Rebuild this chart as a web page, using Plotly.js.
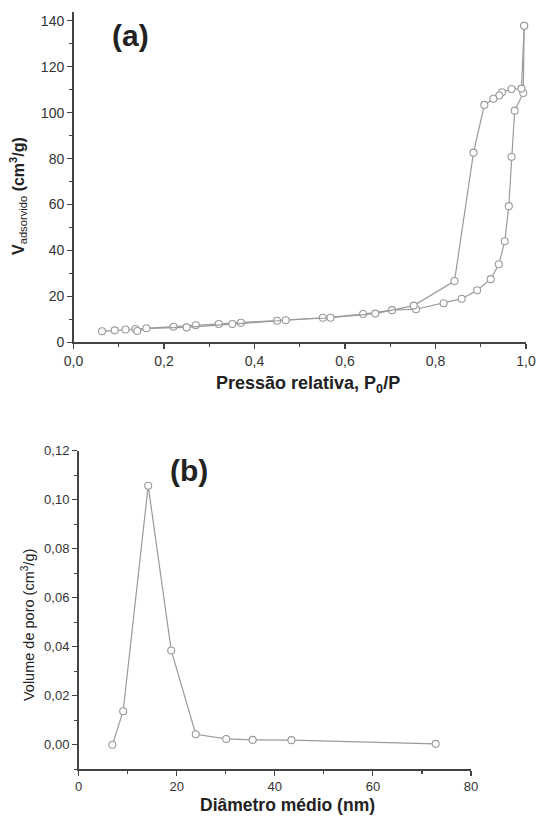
<!DOCTYPE html>
<html>
<head>
<meta charset="utf-8">
<script src="https://cdn.plot.ly/plotly-3.0.1.min.js"></script>
<style>html,body{margin:0;padding:0;background:#fff;}#chart{width:537px;height:816px;}</style>
</head>
<body>
<div id="chart"></div>
<script>
// (a) N2 isotherm: adsorption branch
const adsX = [0.063, 0.091, 0.115, 0.137, 0.221, 0.270, 0.321, 0.370, 0.450, 0.551, 0.640, 0.704, 0.757, 0.818, 0.858, 0.892, 0.922, 0.940, 0.953, 0.962, 0.968, 0.975, 0.994, 0.996];
const adsY = [4.8, 5.2, 5.6, 5.8, 6.8, 7.4, 8.0, 8.5, 9.4, 10.7, 12.3, 14.0, 14.4, 17.0, 19.0, 22.7, 27.5, 34.0, 44.0, 59.3, 80.8, 100.9, 108.6, 137.9];
// (a) desorption branch
const desX = [0.996, 0.990, 0.968, 0.947, 0.941, 0.928, 0.908, 0.884, 0.842, 0.752, 0.667, 0.568, 0.469, 0.351, 0.250, 0.161, 0.141];
const desY = [137.9, 110.5, 110.3, 108.9, 107.5, 106.1, 103.4, 82.6, 26.7, 16.0, 12.5, 10.7, 9.6, 8.0, 6.5, 6.1, 4.9];
// (b) pore size distribution
const diam = [6.9, 9.1, 14.2, 18.9, 23.9, 30.1, 35.5, 43.4, 72.8];
const vol  = [0.0000, 0.0137, 0.1057, 0.0385, 0.0043, 0.0024, 0.0020, 0.0019, 0.0004];

const lineCol = '#9a9a9a';
const mk = {symbol: 'circle', size: 7, color: '#ffffff', line: {color: '#9a9a9a', width: 1.1}};
function tr(x, y, xa, ya) {
  return {x: x, y: y, xaxis: xa, yaxis: ya, type: 'scatter', mode: 'lines+markers',
          line: {color: lineCol, width: 1.2}, marker: mk, cliponaxis: false, hoverinfo: 'x+y'};
}
const data = [tr(adsX, adsY, 'x', 'y'), tr(desX, desY, 'x', 'y'), tr(diam, vol, 'x2', 'y2')];

const axBase = {showline: true, linecolor: '#444', linewidth: 1.5, ticks: 'outside', ticklen: 5,
  tickwidth: 1.2, tickcolor: '#444', showgrid: false, zeroline: false, fixedrange: true};
const fontFam = 'Liberation Sans, Arial, Helvetica, sans-serif';

const layout = {
  width: 537, height: 816, margin: {l: 0, r: 0, t: 0, b: 0},
  paper_bgcolor: '#fff', plot_bgcolor: '#fff', showlegend: false, separators: ',.',
  font: {family: fontFam, color: '#333'},
  xaxis: Object.assign({}, axBase, {domain: [0.1369, 0.9795], anchor: 'y', range: [0, 1], tick0: 0, dtick: 0.2,
    tickformat: '.1f', tickfont: {size: 14, color: '#333'},
    minor: {dtick: 0.1, ticks: 'outside', ticklen: 3, tickcolor: '#444', tickwidth: 1.2, showgrid: false}}),
  yaxis: Object.assign({}, axBase, {domain: [0.5805, 0.9857], anchor: 'x', range: [0, 144], tick0: 0, dtick: 20,
    tickfont: {size: 14, color: '#333'},
    minor: {dtick: 10, ticks: 'outside', ticklen: 3, tickcolor: '#444', tickwidth: 1.2, showgrid: false}}),
  xaxis2: Object.assign({}, axBase, {domain: [0.1462, 0.8771], anchor: 'y2', range: [0, 80], tick0: 0, dtick: 20,
    tickfont: {size: 13, color: '#333'},
    minor: {dtick: 10, ticks: 'outside', ticklen: 3, tickcolor: '#444', tickwidth: 1.2, showgrid: false}}),
  yaxis2: Object.assign({}, axBase, {domain: [0.0572, 0.4477], anchor: 'x2', range: [-0.01, 0.12], tick0: 0, dtick: 0.02,
    tickformat: '.2f', tickfont: {size: 13, color: '#333'},
    minor: {dtick: 0.01, ticks: 'outside', ticklen: 3, tickcolor: '#444', tickwidth: 1.2, showgrid: false}}),
  annotations: [
    {text: '<b>(a)</b>', xref: 'paper', yref: 'paper', x: 0.2421, y: 0.9559, xanchor: 'center', yanchor: 'middle',
     showarrow: false, font: {size: 30, color: '#222', family: fontFam}},
    {text: '<b>(b)</b>', xref: 'paper', yref: 'paper', x: 0.352, y: 0.424, xanchor: 'center', yanchor: 'middle',
     showarrow: false, font: {size: 30, color: '#222', family: fontFam}},
    {text: '<b>Pressão relativa, P<sub>0</sub>/P</b>', xref: 'paper', yref: 'paper', x: 0.5736, y: 0.5282,
     xanchor: 'center', yanchor: 'middle', showarrow: false, font: {size: 18, color: '#222', family: fontFam}},
    {text: '<b>V</b><sub>adsorvido</sub> <b>(cm<sup>3</sup>/g)</b>', xref: 'paper', yref: 'paper', x: 0.0335, y: 0.7598,
     xanchor: 'center', yanchor: 'middle', textangle: -90, showarrow: false, font: {size: 16, color: '#222', family: fontFam}},
    {text: '<b>Diâmetro médio (nm)</b>', xref: 'paper', yref: 'paper', x: 0.5356, y: 0.0135,
     xanchor: 'center', yanchor: 'middle', showarrow: false, font: {size: 17.5, color: '#222', family: fontFam}},
    {text: 'Volume de poro (cm<sup>3</sup>/g)', xref: 'paper', yref: 'paper', x: 0.0521, y: 0.234,
     xanchor: 'center', yanchor: 'middle', textangle: -90, showarrow: false, font: {size: 14.5, color: '#222', family: fontFam}}
  ]
};
Plotly.newPlot('chart', data, layout, {staticPlot: true, displayModeBar: false});
</script>
</body>
</html>
